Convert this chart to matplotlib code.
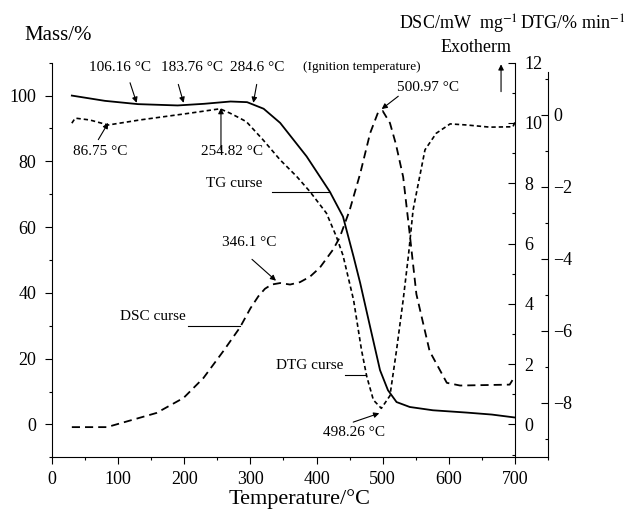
import matplotlib
matplotlib.use("Agg")
import matplotlib.pyplot as plt
from matplotlib.ticker import MultipleLocator

plt.rcParams['font.family'] = ['Liberation Serif', 'DejaVu Serif']
plt.rcParams['mathtext.fontset'] = 'stix'
plt.rcParams['axes.unicode_minus'] = True

# TG curve (mass %)
tg_t = [30, 80, 130, 190, 230, 270, 295, 320, 345, 385, 420, 440, 456, 466, 481,
        496, 508, 521, 541, 576, 627, 665, 700]
tg_m = [100.0, 98.4, 97.4, 97.0, 97.5, 98.2, 98.0, 96.0, 91.7, 81.5, 70.8, 63.2,
        51.0, 43.0, 29.7, 16.5, 10.4, 6.8, 5.3, 4.3, 3.6, 3.0, 2.1]

# DSC curve (mW/mg)
dsc_t = [30, 83, 123, 158, 199, 229, 259, 284, 300, 312, 322, 332, 345, 360, 375,
         390, 405, 425, 435, 450, 466, 481, 493, 500, 511, 520, 531, 541, 551, 571,
         597, 617, 692, 700]
dsc_v = [-0.09, -0.09, 0.16, 0.38, 0.88, 1.54, 2.43, 3.21, 3.85, 4.25, 4.5, 4.64,
         4.69, 4.64, 4.72, 4.9, 5.2, 5.8, 6.2, 7.1, 8.32, 9.66, 10.35, 10.4, 10.0,
         9.3, 8.21, 6.3, 4.32, 2.43, 1.38, 1.29, 1.32, 1.6]

# DTG curve (%/min)
dtg_t = [30, 35, 57, 85, 133, 209, 254, 269, 284, 294, 319, 345, 370, 390, 415,
         430, 440, 456, 468, 476, 486, 498, 511, 521, 531, 539, 546, 556, 564, 581,
         602, 627, 662, 697, 700]
dtg_v = [-0.23, -0.09, -0.14, -0.28, -0.14, 0.05, 0.17, 0.05, -0.09, -0.19, -0.69,
         -1.25, -1.71, -2.13, -2.73, -3.38, -3.9, -5.14, -6.53, -7.27, -7.92, -8.15,
         -7.8, -6.53, -5.14, -3.9, -2.64, -1.71, -0.97, -0.51, -0.25, -0.28, -0.34,
         -0.33, -0.2]

fig = plt.figure(figsize=(6.27, 5.15), dpi=100)
ax = fig.add_axes([52/627, 57.7/515, 496/627, 394.6/515])
ax_dsc = ax.twinx()
ax_dtg = ax.twinx()

ax.plot(tg_t, tg_m, color='k', lw=1.3)
ax_dsc.plot(dsc_t, dsc_v, color='k', lw=1.3, dashes=(4.5, 2.8))
ax_dtg.plot(dtg_t, dtg_v, color='k', lw=1.2, dashes=(2.6, 1.8))

# main axis
ax.set_xlim(0, 750)
ax.set_ylim(-10, 110)
ax.spines['top'].set_visible(False)
ax.spines['right'].set_visible(False)
ax.set_xticks([0, 100, 200, 300, 400, 500, 600, 700])
ax.xaxis.set_minor_locator(MultipleLocator(50))
ax.yaxis.set_minor_locator(MultipleLocator(10))
ax.set_yticks([0, 20, 40, 60, 80, 100])
ax.tick_params(axis='both', which='major', direction='out', length=5, width=0.8, labelsize=13)
ax.tick_params(axis='x', which='major', pad=5)
ax.tick_params(axis='y', which='major', pad=6.5)
ax.tick_params(axis='both', which='minor', direction='out', length=2.5, width=0.8)
ax.set_xlabel('Temperature/°C', fontsize=16, labelpad=1)

# DSC axis at 700 °C
ax_dsc.set_ylim(-12/11, 12)
for s in ['top', 'left', 'bottom']:
    ax_dsc.spines[s].set_visible(False)
ax_dsc.spines['right'].set_position(('axes', 700/750))
ax_dsc.set_yticks([0, 2, 4, 6, 8, 10, 12])
ax_dsc.yaxis.set_minor_locator(MultipleLocator(1))
ax_dsc.tick_params(axis='y', which='major', direction='in', length=5, width=0.8,
                   labelsize=13, pad=7)
ax_dsc.tick_params(axis='y', which='minor', direction='in', length=2.5, width=0.8)

# DTG axis at right edge
ax_dtg.set_ylim(-9.51, 1.45)
for s in ['top', 'left', 'bottom']:
    ax_dtg.spines[s].set_visible(False)
ax_dtg.spines['right'].set_bounds(-9.51, 1.2)
ax_dtg.set_yticks([-8, -6, -4, -2, 0])
ax_dtg.yaxis.set_minor_locator(MultipleLocator(1))
ax_dtg.tick_params(axis='y', which='major', direction='in', length=5, width=0.8,
                   labelsize=13, pad=4)
ax_dtg.tick_params(axis='y', which='minor', direction='in', length=2.5, width=0.8)

# axis titles
fig.text(24/627, 1 - 40/515, 'Mass/%', fontsize=15, ha='left', va='baseline')
fig.text(518/627, 1 - 30/515, 'DSC/mW  mg$^{-1}$', fontsize=13, ha='right', va='baseline')
fig.text(625/627, 1 - 30/515, 'DTG/% min$^{-1}$', fontsize=13, ha='right', va='baseline')
fig.text(476/627, 1 - 52/515, 'Exotherm', fontsize=13, ha='center', va='baseline')

# annotations
fs = 11
labels = [
    ('106.16 °C', 103, 108.5), ('183.76 °C', 212, 108.5), ('284.6 °C', 310, 108.5),
    ('500.97 °C', 569, 102.4), ('86.75 °C', 73, 83), ('254.82 °C', 272, 83),
    ('TG curse', 275, 73.2), ('346.1 °C', 298, 55.3), ('DSC curse', 153, 32.7),
    ('DTG curse', 390, 18), ('498.26 °C', 457, -2.6),
]
for txt, x, y in labels:
    ax.text(x, y, txt, fontsize=fs, ha='center', va='center')
ax.text(469, 108.7, '(Ignition temperature)', fontsize=9.5, ha='center', va='center')

arrows = [
    ((118, 103.9), (128, 97.8)), ((191, 103.4), (199, 97.8)),
    ((309.5, 103.4), (304.4, 97.8)), ((70, 86.6), (85, 91.7)),
    ((255.5, 83.5), (255.5, 96.2)), ((523.6, 99.8), (498.5, 95.9)),
    ((302.4, 50.2), (338.7, 43.7)), ((455.5, 0.7), (494.9, 3.4)),
    ((679, 101.2), (679, 109.5)),
]
for tail, tip in arrows:
    ax.annotate('', xy=tip, xytext=tail,
                arrowprops=dict(arrowstyle='-|>', color='k', lw=0.8,
                                mutation_scale=8, shrinkA=0, shrinkB=0))

# leader lines
ax.plot([332.6, 420.3], [70.7, 70.7], color='k', lw=0.8)
ax.plot([205, 284.2], [29.9, 29.9], color='k', lw=0.8)
ax.plot([443, 473], [14.9, 14.9], color='k', lw=0.8)

fig.savefig('out.png', dpi=100)
